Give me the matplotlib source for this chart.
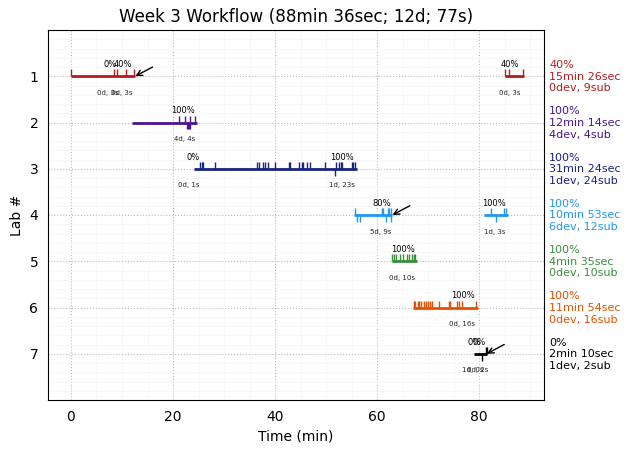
import matplotlib
matplotlib.use('Agg')
import matplotlib.pyplot as plt
from matplotlib.ticker import MultipleLocator

labs = [1, 2, 3, 4, 5, 6, 7]
colors = ['#b71c1c', '#4a148c', '#1a237e', '#2196f3', '#388e3c', '#e65100', '#000000']

# start, end of each working block (min)
blocks = [
    [(0, 12.6), (85.0, 88.7)],
    [(12.0, 24.7)],
    [(24.2, 56.0)],
    [(55.5, 63.0), (81.0, 85.6)],
    [(62.9, 67.8)],
    [(67.1, 79.8)],
    [(79.0, 81.6)],
]
subs = [
    [0.1, 8.5, 9.1, 10.8, 12.3, 85.1, 85.9, 88.5],
    [21.2, 22.3, 23.3, 24.4],
    [25.3, 25.6, 25.9, 28.3, 36.5, 36.9, 37.7, 38.0, 38.7, 39.9, 42.8, 43.0, 44.6,
     45.2, 45.4, 46.3, 46.9, 49.8, 52.0, 52.6, 52.9, 53.2, 55.0, 55.2, 55.7],
    [55.7, 60.9, 61.2, 62.1, 62.4, 62.7, 82.4, 84.8, 85.2],
    [63.0, 63.4, 63.7, 64.4, 65.1, 65.9, 66.2, 66.8, 67.2, 67.5],
    [67.3, 67.5, 68.0, 68.3, 68.6, 69.1, 69.5, 69.9, 70.4, 70.8, 72.2, 74.1, 74.3,
     75.7, 76.1, 76.7, 79.3],
    [81.4, 81.5],
]
devs = [
    [],
    [22.8, 23.0, 23.2, 23.4],
    [51.8],
    [56.1, 56.7, 61.7, 62.7, 83.2],
    [],
    [],
    [80.5],
]
# score and time-to-completion text per block, with x position
pct_x = [[7.7, 10.1, 86.0], [21.9], [24.0, 53.2], [60.9, 82.8], [65.1], [76.9], [79.0, 80.0]]
pct_txt = [['0%', '40%', '40%'], ['100%'], ['0%', '100%'], ['80%', '100%'], ['100%'], ['100%'], ['0%', '0%']]
info_x = [[7.3, 10.0, 86.0], [22.3], [23.0, 53.2], [60.7, 83.0], [64.8], [76.7], [78.8, 79.8]]
info_txt = [['0d, 3s', '0d, 3s', '0d, 3s'], ['4d, 4s'], ['0d, 1s', '1d, 23s'], ['5d, 9s', '1d, 3s'],
            ['0d, 10s'], ['0d, 16s'], ['1d, 0s', '0d, 2s']]
side = ['40%\n15min 26sec\n0dev, 9sub', '100%\n12min 14sec\n4dev, 4sub', '100%\n31min 24sec\n1dev, 24sub',
        '100%\n10min 53sec\n6dev, 12sub', '100%\n4min 35sec\n0dev, 10sub', '100%\n11min 54sec\n0dev, 16sub',
        '0%\n2min 10sec\n1dev, 2sub']
arrow_tip = [(12.6, 1), (63.0, 4), (81.5, 7)]

fig = plt.figure(figsize=(6.3, 4.53), dpi=100)
ax = fig.add_axes([48/630, 1-400/453, (544-48)/630, (400-30)/453])

for i, lab in enumerate(labs):
    c = colors[i]
    for b in blocks[i]:
        ax.plot(b, [lab, lab], color=c, lw=2, solid_capstyle='butt', zorder=3)
    ax.vlines(subs[i], lab-0.15, lab, color=c, lw=1, zorder=3)
    ax.vlines(devs[i], lab, lab+0.15, color=c, lw=1, zorder=3)
    for x, t in zip(pct_x[i], pct_txt[i]):
        ax.text(x, lab-0.25, t, fontsize=6, ha='center', va='center')
    for x, t in zip(info_x[i], info_txt[i]):
        ax.text(x, lab+0.36, t, fontsize=5, ha='center', va='center', color='#222222')
    ax.text(93.7, lab+0.01, side[i], color=c, fontsize=8, ha='left', va='center', linespacing=1.2, clip_on=False)

for x, y in arrow_tip:
    ax.annotate('', xy=(x, y), xytext=(x+3.4, y-0.2), arrowprops=dict(arrowstyle='->', color='k', lw=1, shrinkA=0, shrinkB=0))

ax.set_xlim(-4.5, 92.7)
ax.set_ylim(8, 0)
ax.set_yticks(labs)
ax.xaxis.set_major_locator(MultipleLocator(20))
ax.xaxis.set_minor_locator(MultipleLocator(5))
ax.yaxis.set_minor_locator(MultipleLocator(0.2))
ax.grid(which='major', color='#bbbbbb', ls=':', lw=0.8)
ax.grid(which='minor', color='#f6f6f6', ls='-', lw=0.5)
ax.tick_params(which='major', length=0, pad=7)
ax.tick_params(which='minor', length=0)
ax.set_axisbelow(True)
ax.set_xlabel('Time (min)')
ax.set_ylabel('Lab #')
ax.set_title('Week 3 Workflow (88min 36sec; 12d; 77s)', fontsize=12.1)

fig.savefig('out.png', dpi=100)
